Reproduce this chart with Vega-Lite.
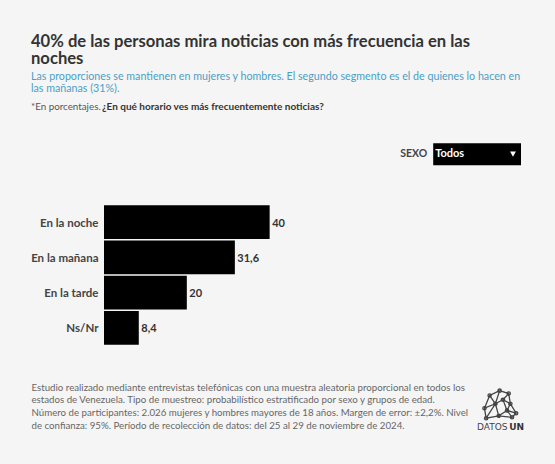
{
  "$schema": "https://vega.github.io/schema/vega-lite/v6.json",
  "width": 417,
  "height": 282,
  "autosize": {"type": "none"},
  "padding": {"left": 104, "top": 134, "right": 34, "bottom": 48},
  "background": "#f5f5f5",
  "config": {
    "view": {"stroke": null},
    "locale": {"number": {"decimal": ",", "thousands": ".", "grouping": [3], "currency": ["", ""]}},
    "font": "Lato"
  },
  "title": {
    "text": ["40% de las personas mira noticias con más frecuencia en las", "noches"],
    "subtitle": ["Las proporciones se mantienen en mujeres y hombres. El segundo segmento es el de quienes lo hacen en", "las mañanas (31%)."],
    "anchor": "start",
    "frame": "group",
    "dx": -73,
    "offset": 8,
    "font": "Lato",
    "fontSize": 16.6,
    "fontWeight": "bold",
    "color": "#333333",
    "lineHeight": 17,
    "subtitleFont": "Lato",
    "subtitleFontSize": 10.7,
    "subtitleColor": "#4a9fc6",
    "subtitleLineHeight": 12,
    "subtitlePadding": 4
  },
  "datasets": {
    "respuestas": [
      {"horario": "En la noche", "porcentaje": 40},
      {"horario": "En la mañana", "porcentaje": 31.6},
      {"horario": "En la tarde", "porcentaje": 20},
      {"horario": "Ns/Nr", "porcentaje": 8.4}
    ]
  },
  "layer": [
    {
      "data": {"name": "respuestas"},
      "mark": {"type": "bar", "color": "#000000"},
      "encoding": {
        "x": {
          "field": "porcentaje",
          "type": "quantitative",
          "scale": {"domain": [0, 100.7], "nice": false},
          "axis": {
            "domain": false,
            "ticks": false,
            "labels": false,
            "grid": false,
            "title": [
              "Estudio realizado mediante entrevistas telefónicas con una muestra aleatoria proporcional en todos los",
              "estados de Venezuela. Tipo de muestreo: probabilístico estratificado por sexo y grupos de edad.",
              "Número de participantes: 2.026 mujeres y hombres mayores de 18 años. Margen de error: ±2,2%. Nivel",
              "de confianza: 95%. Período de recolección de datos: del 25 al 29 de noviembre de 2024."
            ],
            "titleFont": "Lato",
            "titleFontSize": 9.7,
            "titleFontWeight": "normal",
            "titleColor": "#666666",
            "titleLineHeight": 12.8,
            "titleAlign": "left",
            "titleAnchor": "start",
            "titleBaseline": "alphabetic",
            "titleX": -73,
            "titleY": -26
          }
        },
        "y": {
          "field": "horario",
          "type": "nominal",
          "sort": null,
          "title": null,
          "scale": {
            "domain": ["SEXO", "espacio", "En la noche", "En la mañana", "En la tarde", "Ns/Nr", "pie", "DATOSUN"],
            "paddingInner": 0.04,
            "paddingOuter": 0.02
          },
          "axis": {
            "values": ["En la noche", "En la mañana", "En la tarde", "Ns/Nr"],
            "domain": false,
            "ticks": false,
            "grid": false,
            "labelFont": "Lato",
            "labelFontSize": 11.5,
            "labelFontWeight": "bold",
            "labelColor": "#444444",
            "labelPadding": 6,
            "labelOffset": 1.5
          }
        }
      }
    },
    {
      "data": {"name": "respuestas"},
      "mark": {"type": "text", "align": "left", "dx": 2.5, "dy": 1.5, "font": "Lato", "fontSize": 11, "fontWeight": "bold", "color": "#333333"},
      "encoding": {
        "x": {"field": "porcentaje", "type": "quantitative"},
        "y": {"field": "horario", "type": "nominal", "sort": null},
        "text": {"field": "porcentaje", "type": "quantitative", "format": ".1~f"}
      }
    },
    {
      "data": {"values": [{"control": "Todos"}]},
      "mark": {"type": "bar", "color": "#000000", "height": 22, "yOffset": 2.5},
      "encoding": {
        "x": {"datum": 79.5, "type": "quantitative"},
        "x2": {"datum": 100.7},
        "y": {"datum": "SEXO", "type": "nominal"}
      }
    },
    {
      "data": {"values": [{"control": "Todos"}]},
      "mark": {"type": "text", "align": "left", "dx": 2, "dy": 2.5, "font": "Lato", "fontSize": 11, "fontWeight": "bold", "color": "#ffffff"},
      "encoding": {
        "x": {"datum": 79.5, "type": "quantitative"},
        "y": {"datum": "SEXO", "type": "nominal"},
        "text": {"field": "control"}
      }
    },
    {
      "data": {"values": [{"filtro": "SEXO"}]},
      "mark": {"type": "text", "align": "right", "dx": -6, "dy": 2, "font": "Lato", "fontSize": 10.5, "fontWeight": "bold", "color": "#444444"},
      "encoding": {
        "x": {"datum": 79.5, "type": "quantitative"},
        "y": {"datum": "SEXO", "type": "nominal"},
        "text": {"field": "filtro"}
      }
    },
    {
      "data": {"values": [{"control": "Todos"}]},
      "mark": {"type": "point", "shape": "triangle-down", "filled": true, "size": 34, "color": "#ffffff", "opacity": 1, "xOffset": -8, "yOffset": 2.5},
      "encoding": {
        "x": {"datum": 100.7, "type": "quantitative"},
        "y": {"datum": "SEXO", "type": "nominal"}
      }
    },
    {
      "data": {"values": [{"nota": "*En porcentajes."}]},
      "mark": {"type": "text", "align": "left", "dx": -73, "dy": -45, "font": "Lato", "fontSize": 9.8, "color": "#555555"},
      "encoding": {
        "x": {"datum": 0, "type": "quantitative"},
        "y": {"datum": "SEXO", "type": "nominal"},
        "text": {"field": "nota"}
      }
    },
    {
      "data": {"values": [{"pregunta": "¿En qué horario ves más frecuentemente noticias?"}]},
      "mark": {"type": "text", "align": "left", "dx": -2, "dy": -45, "font": "Lato", "fontSize": 10, "fontWeight": "bold", "color": "#333333"},
      "encoding": {
        "x": {"datum": 0, "type": "quantitative"},
        "y": {"datum": "SEXO", "type": "nominal"},
        "text": {"field": "pregunta"}
      }
    },
    {
      "data": {"values": [{"marca": "DATOSUN"}]},
      "mark": {
        "type": "point",
        "filled": false,
        "opacity": 1,
        "size": 1369,
        "stroke": "#444444",
        "strokeWidth": 1.3,
        "xOffset": -21,
        "yOffset": 5.4,
        "shape": "M-0.02,-0.71L0.47,-0.55L0.56,0L0.87,0.51L0.65,0.73L-0.07,0.65L-0.75,0.78L-0.84,0.24L-0.56,-0.45L-0.02,-0.71M-0.02,-0.71L-0.25,0L-0.07,0.65L0.38,0.36L0.56,0L0.16,-0.22L-0.25,0L-0.84,0.24M-0.56,-0.45L-0.25,0L-0.75,0.78M0.47,-0.55L0.16,-0.22L0.38,0.36L0.87,0.51M0.38,0.36L0.65,0.73M-0.11,-0.71a0.09,0.09 0 1,0 0.18,0a0.09,0.09 0 1,0 -0.18,0M0.38,-0.55a0.09,0.09 0 1,0 0.18,0a0.09,0.09 0 1,0 -0.18,0M-0.65,-0.45a0.09,0.09 0 1,0 0.18,0a0.09,0.09 0 1,0 -0.18,0M-0.93,0.24a0.09,0.09 0 1,0 0.18,0a0.09,0.09 0 1,0 -0.18,0M-0.34,0a0.09,0.09 0 1,0 0.18,0a0.09,0.09 0 1,0 -0.18,0M0.07,-0.22a0.09,0.09 0 1,0 0.18,0a0.09,0.09 0 1,0 -0.18,0M0.47,0a0.09,0.09 0 1,0 0.18,0a0.09,0.09 0 1,0 -0.18,0M0.29,0.36a0.09,0.09 0 1,0 0.18,0a0.09,0.09 0 1,0 -0.18,0M0.78,0.51a0.09,0.09 0 1,0 0.18,0a0.09,0.09 0 1,0 -0.18,0M-0.16,0.65a0.09,0.09 0 1,0 0.18,0a0.09,0.09 0 1,0 -0.18,0M-0.84,0.78a0.09,0.09 0 1,0 0.18,0a0.09,0.09 0 1,0 -0.18,0M0.56,0.73a0.09,0.09 0 1,0 0.18,0a0.09,0.09 0 1,0 -0.18,0"
      },
      "encoding": {
        "x": {"datum": 100.7, "type": "quantitative"},
        "y": {"datum": "DATOSUN", "type": "nominal"}
      }
    },
    {
      "data": {"values": [{"marca": "DATOS"}]},
      "mark": {"type": "text", "align": "left", "dx": -44, "dy": 29, "font": "DejaVu Sans", "fontSize": 9, "color": "#444444"},
      "encoding": {
        "x": {"datum": 100.7, "type": "quantitative"},
        "y": {"datum": "DATOSUN", "type": "nominal"},
        "text": {"field": "marca"}
      }
    },
    {
      "data": {"values": [{"marca": "UN"}]},
      "mark": {"type": "text", "align": "right", "dx": 3, "dy": 29, "font": "DejaVu Sans", "fontSize": 9, "fontWeight": "bold", "color": "#333333"},
      "encoding": {
        "x": {"datum": 100.7, "type": "quantitative"},
        "y": {"datum": "DATOSUN", "type": "nominal"},
        "text": {"field": "marca"}
      }
    }
  ]
}
